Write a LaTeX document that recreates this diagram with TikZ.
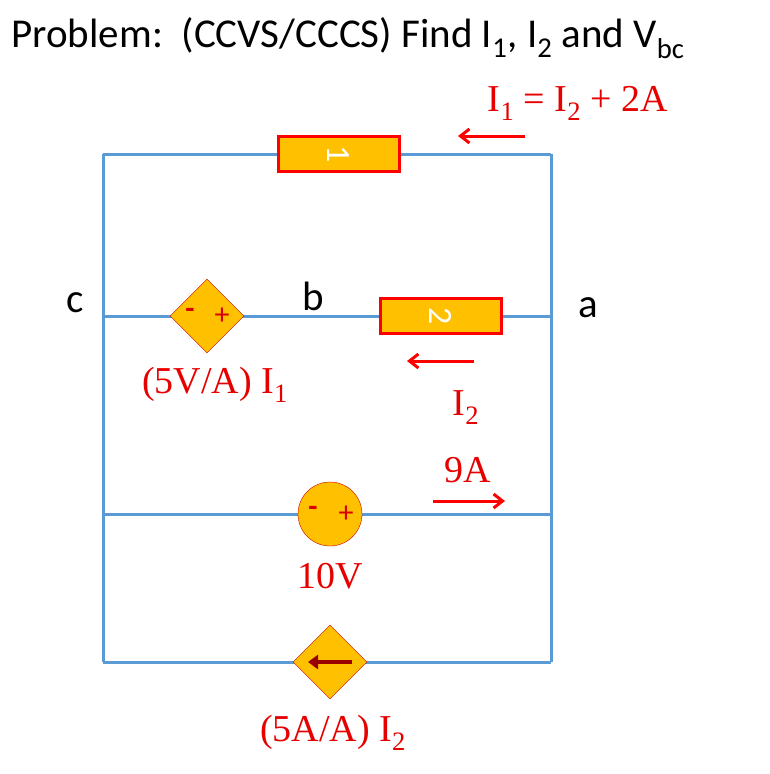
\documentclass[tikz,border=0pt]{standalone}
\usepackage{fontspec}
\setmainfont{Liberation Serif}
\newfontfamily\carl{Carlito}
\usetikzlibrary{shapes.geometric,arrows.meta}
\definecolor{wire}{RGB}{91,155,213}
\definecolor{gold}{RGB}{255,192,0}
\definecolor{lab}{RGB}{230,0,0}
\begin{document}
\begin{tikzpicture}[x=1pt,y=-1pt,
  w/.style={draw=wire,line width=3pt},
  res/.style={draw=red,line width=3pt,fill=gold,minimum width=121pt,minimum height=35pt,inner sep=0pt,text=white,font=\carl\fontsize{34}{34}\selectfont},
  dia/.style={diamond,draw=red!80!black,fill=gold,minimum width=74pt,minimum height=74pt,inner sep=0pt,aspect=1},
  src/.style={circle,draw=red!80!black,fill=gold,minimum size=64pt,inner sep=0pt},
  lbl/.style={text=lab,font=\fontsize{38}{38}\selectfont},
  pm/.style={text=red!85!black,font=\carl\fontsize{30}{30}\selectfont},
  arr/.style={draw=red,line width=3pt,-{Straight Barb[length=9pt,width=14pt]}},
  nd/.style={font=\carl\fontsize{41}{41}\selectfont}]
\useasboundingbox (0,0) rectangle (770,774);
\node[nd,anchor=west] (title) at (8,38) {Problem:\ \ (CCVS/CCCS) Find I\textsubscript{1}, I\textsubscript{2} and V\textsubscript{bc}};
\coordinate (tl) at (103,154); \coordinate (tr) at (551,154);
\coordinate (ml) at (103,316); \coordinate (mr) at (551,316);
\coordinate (l3) at (103,514); \coordinate (r3) at (551,514);
\coordinate (bl) at (103,662); \coordinate (br) at (551,662);
\draw[w] (tl)--(bl) (tr)--(br) (tl)--(tr) (ml)--(mr) (l3)--(r3) (bl)--(br);
\node[res] (r1) at (338.5,154) {\rotatebox{-90}{1}};
\node[res] (r2) at (440.5,316) {\rotatebox{-90}{2}};
\node[dia] (d1) at (207,316) {};
\node[pm] at (190,313) {\textbf{-}};
\node[pm] at (222,316) {+};
\node[src] (s1) at (330,514) {};
\node[pm] at (313,511) {\textbf{-}};
\node[pm] at (346,514) {+};
\node[dia] (d2) at (330,662) {};
\draw[draw=red!60!black,line width=4pt,-{Triangle[length=10pt,width=14pt]}] (352,662)--(308,662);
\node[nd] (c) at (75,303) {c};
\node[nd] (b) at (313,296) {b};
\node[nd] (a) at (588,308) {a};
\node[lbl] (i12) at (578,103) {I\textsubscript{1} = I\textsubscript{2} + 2A};
\draw[arr] (525,136)--(458,136);
\draw[arr] (474,361)--(407,361);
\node[lbl] (i2) at (466,408) {I\textsubscript{2}};
\node[lbl] (nine) at (468,470) {9A};
\draw[arr] (433,501)--(505,501);
\node[lbl] (ccvs) at (215,385) {(5V/A) I\textsubscript{1}};
\node[lbl] (ten) at (330,576) {10V};
\node[lbl] (cccs) at (333,733) {(5A/A) I\textsubscript{2}};
\end{tikzpicture}
\end{document}
